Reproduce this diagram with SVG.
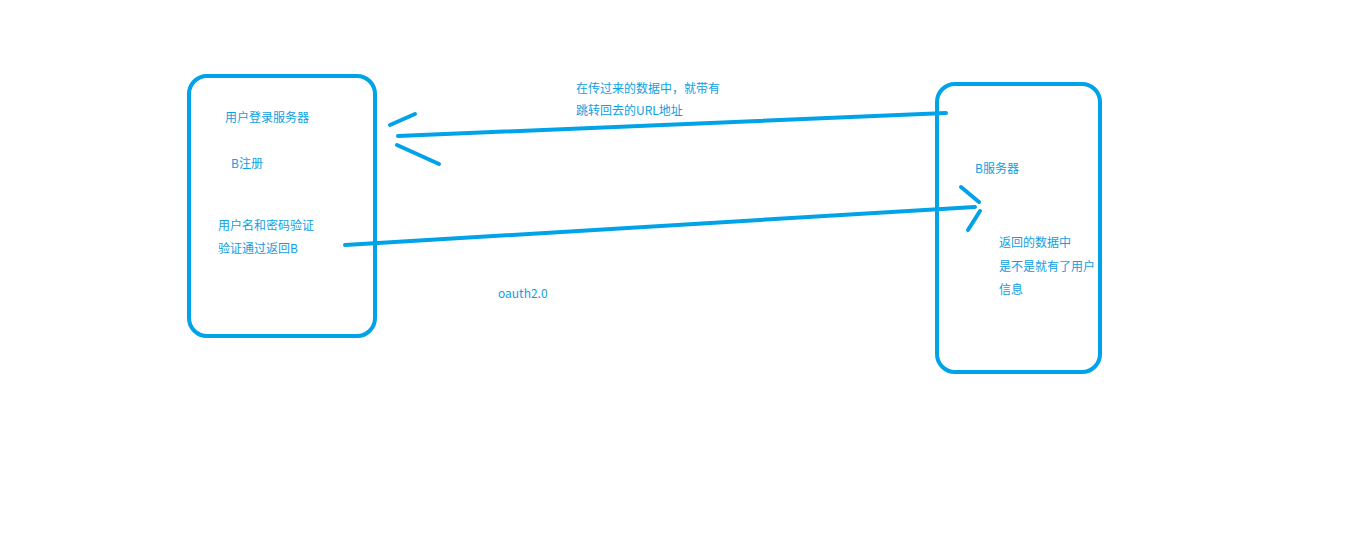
<svg xmlns="http://www.w3.org/2000/svg" width="1360" height="536" viewBox="0 0 1360 536">
<style>
.box{fill:none;stroke:#00a2e8;stroke-width:4}
.ln{stroke:#00a2e8;stroke-width:4;stroke-linecap:round;fill:none}
text{font-family:"Noto Sans CJK SC","Liberation Sans",sans-serif;font-size:12px;fill:#0ea0e2}
</style>
<rect width="1360" height="536" fill="#fff"/>
<g id="login-server">
<rect class="box" x="189" y="76" width="186" height="260" rx="18"/>
<text x="225" y="122">用户登录服务器</text>
<text x="231" y="168">B注册</text>
<text x="218" y="230">用户名和密码验证</text>
<text x="218" y="253">验证通过返回B</text>
</g>
<g id="b-server">
<rect class="box" x="937" y="84" width="163" height="288" rx="18"/>
<text x="975" y="173">B服务器</text>
<text x="999" y="247">返回的数据中</text>
<text x="999" y="271">是不是就有了用户</text>
<text x="999" y="294">信息</text>
</g>
<g id="notes">
<text x="576" y="93">在传过来的数据中，就带有</text>
<text x="576" y="115">跳转回去的URL地址</text>
<text x="498" y="298">oauth2.0</text>
</g>
<g id="connectors">
<path class="ln" d="M398 136 L946 113"/>
<path class="ln" d="M390 125 L415 114"/>
<path class="ln" d="M397 145 L439 164"/>
<path class="ln" d="M345 245 L975 207"/>
<path class="ln" d="M961 187 L979 202"/>
<path class="ln" d="M980 211 L968 230"/>
</g>
</svg>
